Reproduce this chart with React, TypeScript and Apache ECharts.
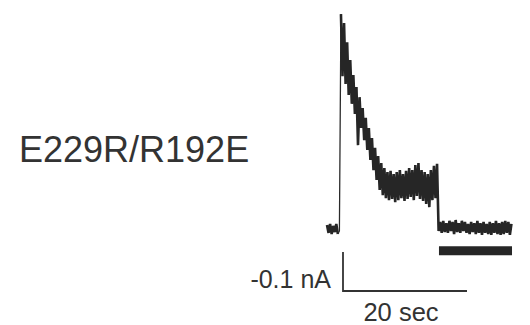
import React, { useEffect, useRef } from "react";
import * as echarts from "echarts";

// Recorded current (nA), sampled every 0.25 s (alternating upper / lower noise envelope)
const sampleInterval = 0.25;
const current = [
  0.010, -0.010, 0.013, -0.013, 0.008, -0.008, 0.013, -0.013, -0.005,
  0.551, 0.392, 0.528, 0.372, 0.479, 0.344, 0.433, 0.321, 0.395, 0.295,
  0.364, 0.215, 0.338, 0.259, 0.310, 0.228, 0.285, 0.203, 0.259, 0.177,
  0.233, 0.151, 0.208, 0.126, 0.187, 0.100, 0.169, 0.087, 0.156, 0.079,
  0.146, 0.074, 0.149, 0.077, 0.141, 0.069, 0.146, 0.074, 0.151, 0.079,
  0.141, 0.072, 0.149, 0.077, 0.156, 0.082, 0.151, 0.074, 0.164, 0.085,
  0.169, 0.077, 0.151, 0.072, 0.146, 0.064, 0.141, 0.056, 0.151, 0.074,
  0.162, 0.079, 0.167,
  -0.005, 0.018, -0.010, 0.021, -0.008, 0.015, -0.010, 0.021, -0.005,
  0.018, -0.013, 0.023, -0.008, 0.015, -0.010, 0.021, -0.005, 0.018,
  -0.010, 0.013, -0.013, 0.018, -0.008, 0.015, -0.013, 0.021, -0.010,
  0.015, -0.015, 0.018, -0.010, 0.013, -0.013, 0.018, -0.015, 0.015,
  -0.010, 0.021, -0.013, 0.015, -0.015, 0.018, -0.013, 0.021, -0.010,
  0.018, -0.015, 0.013,
];
// index of the peak sample (end of the fast rise)
const peakIndex = 9;

// Stimulus bar (s) and its drawing level (nA)
const stimStart = 18.06;
const stimEnd = 29.84;
const stimLevel = -0.056;

// Scale bar: origin corner and lengths
const scaleOriginT = 2.58;
const scaleOriginI = -0.159;
const scaleTime = 20; // sec
const scaleCurrent = 0.1; // nA

const constructLabel = "E229R/R192E";
const currentLabel = "-0.1 nA";
const timeLabel = "20 sec";

export default function App() {
  const ref = useRef<HTMLDivElement>(null);

  useEffect(() => {
    if (!ref.current) return;
    const chart = echarts.init(ref.current, null, { renderer: "svg" });
    const traceData = current.map((v, i) => [i * sampleInterval, v]);
    const font = "Liberation Sans, Arial, Helvetica, sans-serif";
    chart.setOption({
      animation: false,
      backgroundColor: "#ffffff",
      grid: { left: 327, top: 10.6, width: 186, height: 296.4 },
      xAxis: { type: "value", min: 0, max: 30, show: false },
      yAxis: { type: "value", min: -0.2, max: 0.56, show: false },
      series: [
        {
          type: "line",
          data: traceData.slice(0, peakIndex - 1),
          showSymbol: false,
          silent: true,
          lineStyle: { color: "#262626", width: 2.6, join: "bevel" },
        },
        {
          type: "line",
          data: traceData.slice(peakIndex - 2, peakIndex + 1),
          showSymbol: false,
          silent: true,
          lineStyle: { color: "#2a2a2a", width: 1.3 },
        },
        {
          type: "line",
          data: traceData.slice(peakIndex),
          showSymbol: false,
          silent: true,
          lineStyle: { color: "#262626", width: 2.6, join: "bevel" },
        },
        {
          type: "line",
          data: [
            [stimStart, stimLevel],
            [stimEnd, stimLevel],
          ],
          showSymbol: false,
          silent: true,
          lineStyle: { color: "#262626", width: 9, cap: "butt" },
        },
        {
          type: "line",
          data: [
            [scaleOriginT, scaleOriginI + scaleCurrent],
            [scaleOriginT, scaleOriginI],
            [scaleOriginT + scaleTime, scaleOriginI],
          ],
          showSymbol: false,
          silent: true,
          lineStyle: { color: "#333333", width: 1.8, cap: "butt", join: "miter" },
        },
      ],
      graphic: [
        {
          type: "text",
          x: 19,
          y: 149,
          style: {
            text: constructLabel,
            font: `36px ${font}`,
            fill: "#333333",
            textAlign: "left",
            textVerticalAlign: "middle",
          },
        },
        {
          type: "text",
          x: 331,
          y: 279,
          style: {
            text: currentLabel,
            font: `25px ${font}`,
            fill: "#333333",
            textAlign: "right",
            textVerticalAlign: "middle",
          },
        },
        {
          type: "text",
          x: 401,
          y: 311.5,
          style: {
            text: timeLabel,
            font: `25.5px ${font}`,
            fill: "#333333",
            textAlign: "center",
            textVerticalAlign: "middle",
          },
        },
      ],
    });
    return () => chart.dispose();
  }, []);

  return (
    <div
      ref={ref}
      style={{ position: "fixed", left: 0, top: 0, width: 530, height: 325 }}
    />
  );
}
